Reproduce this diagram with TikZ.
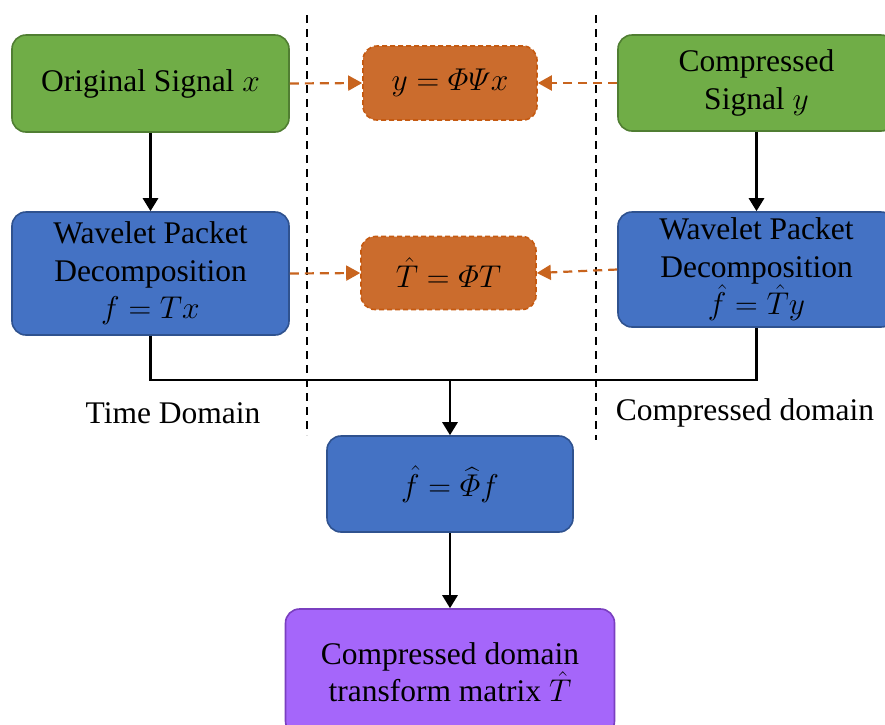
\documentclass[tikz,border=0pt]{standalone}
\usepackage{fix-cm}
\usepackage{amsmath}
\usepackage[no-math]{fontspec}
\setmainfont{Liberation Serif}
\newfontfamily\tnrfont{Liberation Serif}
\usetikzlibrary{arrows.meta}
\definecolor{gfill}{HTML}{70AD47}
\definecolor{gdraw}{HTML}{507E32}
\definecolor{bfill}{HTML}{4472C4}
\definecolor{bdraw}{HTML}{2F528F}
\definecolor{ofill}{HTML}{CB6C2D}
\definecolor{odraw}{HTML}{C55A11}
\definecolor{oarrow}{HTML}{C8641E}
\definecolor{pfill}{HTML}{A566FA}
\definecolor{pdraw}{HTML}{7A3FC0}
\tikzset{
  box/.style={rectangle, rounded corners=14pt, line width=1.6pt, align=center, inner sep=0pt,
    font=\tnrfont\fontsize{31.5}{37.5}\selectfont},
  greenbox/.style={box, fill=gfill, draw=gdraw},
  bluebox/.style={box, fill=bfill, draw=bdraw},
  orangebox/.style={box, fill=ofill, draw=odraw, dashed, dash pattern=on 5pt off 3pt},
  purplebox/.style={box, fill=pfill, draw=pdraw},
  flow/.style={line width=2.8pt, -{Triangle[length=13pt,width=15pt]}},
  oflow/.style={line width=2.2pt, draw=oarrow, dash pattern=on 9pt off 6pt, -{Triangle[length=14pt,width=15pt,fill=oarrow]}},
  sep/.style={line width=1.6pt, dash pattern=on 8pt off 6pt},
  lbl/.style={font=\tnrfont\fontsize{31.5}{37}\selectfont, inner sep=0pt}
}
\begin{document}
\begin{tikzpicture}[x=1pt,y=-1pt]
\useasboundingbox (0,0) rectangle (885,724);
\clip (0,0) rectangle (885,724);
% separators
\coordinate (d1t) at (307,15); \coordinate (d1b) at (307,435);
\coordinate (d2t) at (596,15); \coordinate (d2b) at (596,440);
\draw[sep] (d1t) -- (d1b);
\draw[sep] (d2t) -- (d2b);
% boxes
\node[greenbox, minimum width=277pt, minimum height=97pt] (g1) at (150.5,83.5) {Original Signal $x$};
\node[orangebox, minimum width=174pt, minimum height=74pt] (o1) at (450,83) {$y=\varPhi\varPsi x$};
\node[greenbox, minimum width=277pt, minimum height=96pt] (g2) at (756.5,83) {Compressed\\Signal $y$};
\node[bluebox, minimum width=277pt, minimum height=123pt] (b1) at (150.5,273.5) {Wavelet Packet\\Decomposition\\$f=Tx$};
\node[orangebox, minimum width=175pt, minimum height=73pt] (o2) at (448.5,273) {$\hat{T}=\varPhi T$};
\node[bluebox, minimum width=277pt, minimum height=115pt] (b2) at (756.5,269.5) {Wavelet Packet\\Decomposition\\$\hat{f}=\hat{T}y$};
\node[bluebox, minimum width=246pt, minimum height=96pt] (b3) at (450,484) {$\hat{f}=\widehat{\varPhi}f$};
\node[purplebox, minimum width=329pt, minimum height=126pt] (p) at (450,672) {Compressed domain\\transform matrix $\hat{T}$};
% labels
\node[lbl] (tl) at (173,413) {Time Domain};
\node[lbl] (cl) at (745,413) {Compressed domain};
% connectors
\draw[flow] (g1.south) -- (b1.north);
\draw[flow] (g2.south) -- (b2.north);
\draw[oflow] (g1.east) -- (o1.west);
\draw[oflow] (g2.west) -- (o1.east);
\draw[oflow] (b1.east) -- (o2.west);
\draw[oflow] (b2.west) -- (o2.east);
\coordinate (j) at (450,380);
\draw[line width=2.8pt] (b1.south) -- (b1.south |- j) -- (b2.south |- j) -- (b2.south);
\draw[flow] (j) -- (b3.north);
\draw[flow] (b3.south) -- (p.north);
\end{tikzpicture}
\end{document}
